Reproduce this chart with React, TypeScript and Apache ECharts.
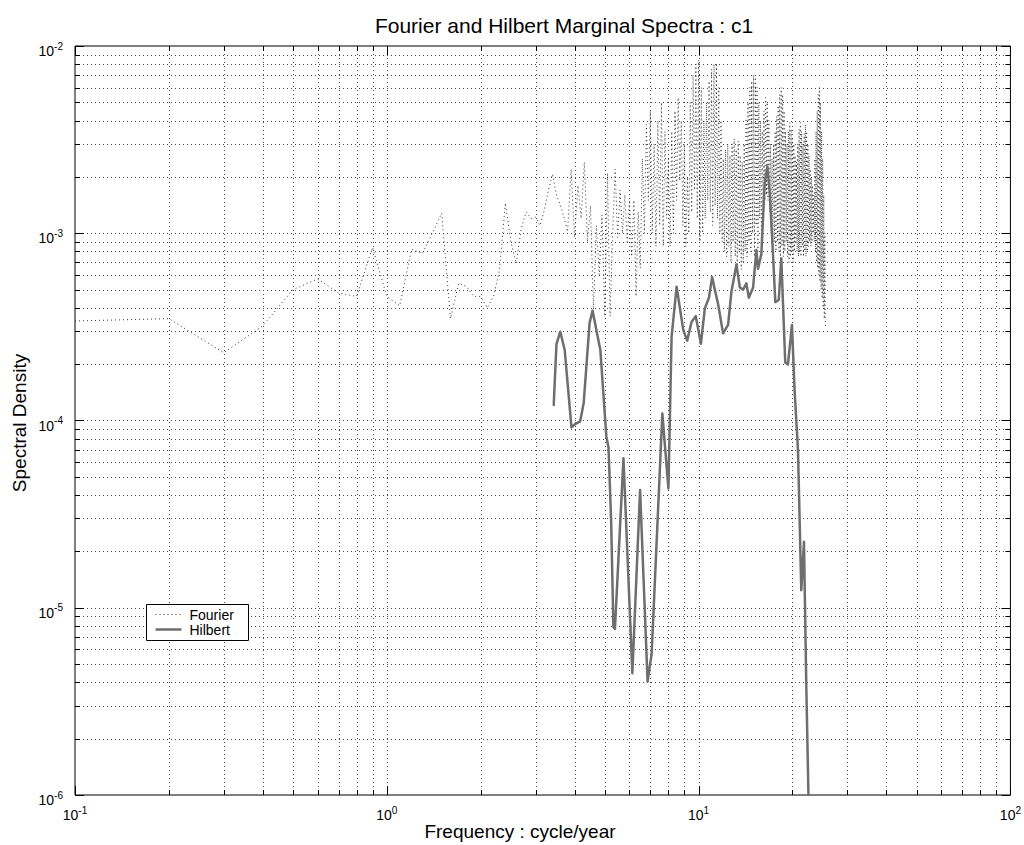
import React, { useEffect, useRef } from 'react';
import * as echarts from 'echarts';

// ---------------- data ----------------
const fourierFreq = [
  0.1, 0.2, 0.3, 0.4, 0.5, 0.6, 0.7, 0.8, 0.9, 1.0,
  1.1, 1.2, 1.3, 1.4, 1.5, 1.6, 1.7, 1.8, 1.9, 2.0,
  2.1, 2.2, 2.3, 2.4, 2.5, 2.6, 2.7, 2.8, 2.9, 3.0,
  3.1, 3.2, 3.3, 3.4, 3.5, 3.6, 3.7, 3.8, 3.9, 4.0,
  4.1, 4.2, 4.3, 4.4, 4.5, 4.6, 4.7, 4.8, 4.9, 5.0,
  5.1, 5.2, 5.3, 5.4, 5.5, 5.6, 5.7, 5.8, 5.9, 6.0,
  6.1, 6.2, 6.3, 6.4, 6.5, 6.6, 6.7, 6.8, 6.9, 7.0,
  7.1, 7.2, 7.3, 7.4, 7.5, 7.6, 7.7, 7.8, 7.9, 8.0,
  8.1, 8.2, 8.3, 8.4, 8.5, 8.6, 8.7, 8.8, 8.9, 9.0,
  9.1, 9.2, 9.3, 9.4, 9.5, 9.6, 9.7, 9.8, 9.9, 10.0,
  10.1, 10.2, 10.3, 10.4, 10.5, 10.6, 10.7, 10.8, 10.9, 11.0,
  11.1, 11.2, 11.3, 11.4, 11.5, 11.6, 11.7, 11.8, 11.9, 12.0,
  12.1, 12.2, 12.3, 12.4, 12.5, 12.6, 12.7, 12.8, 12.9, 13.0,
  13.1, 13.2, 13.3, 13.4, 13.5, 13.6, 13.7, 13.8, 13.9, 14.0,
  14.1, 14.2, 14.3, 14.4, 14.5, 14.6, 14.7, 14.8, 14.9, 15.0,
  15.1, 15.2, 15.3, 15.4, 15.5, 15.6, 15.7, 15.8, 15.9, 16.0,
  16.1, 16.2, 16.3, 16.4, 16.5, 16.6, 16.7, 16.8, 16.9, 17.0,
  17.1, 17.2, 17.3, 17.4, 17.5, 17.6, 17.7, 17.8, 17.9, 18.0,
  18.1, 18.2, 18.3, 18.4, 18.5, 18.6, 18.7, 18.8, 18.9, 19.0,
  19.1, 19.2, 19.3, 19.4, 19.5, 19.6, 19.7, 19.8, 19.9, 20.0,
  20.1, 20.2, 20.3, 20.4, 20.5, 20.6, 20.7, 20.8, 20.9, 21.0,
  21.1, 21.2, 21.3, 21.4, 21.5, 21.6, 21.7, 21.8, 21.9, 22.0,
  22.1, 22.2, 22.3, 22.4, 22.5, 22.6, 22.7, 22.8, 22.9, 23.0,
  23.1, 23.2, 23.3, 23.4, 23.5, 23.6, 23.7, 23.8, 23.9, 24.0,
  24.1, 24.2, 24.3, 24.4, 24.5, 24.6, 24.7, 24.8, 24.9, 25.0,
  25.1, 25.2, 25.3, 25.4, 25.5,
];

const fourierDensity = [
  3.4e-4, 3.5e-4, 2.3e-4, 3.2e-4, 5.0e-4, 5.7e-4, 4.8e-4, 4.6e-4, 8.4e-4, 4.6e-4,
  4.1e-4, 8.2e-4, 7.8e-4, 1.0e-3, 1.28e-3, 3.5e-4, 5.4e-4, 5.2e-4, 4.6e-4, 4.6e-4,
  4.0e-4, 4.6e-4, 6.4e-4, 1.45e-3, 9.0e-4, 6.9e-4, 1.07e-3, 1.3e-3, 1.2e-3, 1.22e-3,
  1.1e-3, 1.33e-3, 1.7e-3, 2.07e-3, 1.6e-3, 1.42e-3, 1.22e-3, 1.02e-3, 2.2e-3, 9.5e-4,
  1.8e-3, 1.2e-3, 2.4e-3, 9.0e-4, 1.4e-3, 3.9e-4, 1.1e-3, 6.0e-4, 1.25e-3, 3.6e-4,
  2.1e-3, 3.6e-4, 1.0e-3, 2.2e-3, 9.5e-4, 1.7e-3, 1.0e-3, 1.6e-3, 9.0e-4, 1.5e-3,
  7.5e-4, 1.5e-3, 4.6e-4, 1.3e-3, 6.5e-4, 2.5e-3, 1.0e-3, 3.8e-3, 1.5e-3, 4.5e-3,
  1.0e-3, 3.0e-3, 8.5e-4, 4.0e-3, 1.1e-3, 5.0e-3, 8.5e-4, 3.5e-3, 1.2e-3, 2.5e-3,
  8.5e-4, 3.5e-3, 1.0e-3, 4.5e-3, 1.5e-3, 5.3e-3, 1.9e-3, 4.0e-3, 1.1e-3, 3.0e-3,
  8.5e-4, 2.0e-3, 1.0e-3, 5.0e-3, 1.3e-3, 7.0e-3, 1.7e-3, 8.0e-3, 1.2e-3, 8.4e-3,
  9.0e-4, 6.0e-3, 1.0e-3, 4.0e-3, 1.2e-3, 5.0e-3, 1.5e-3, 6.5e-3, 1.3e-3, 7.5e-3,
  1.1e-3, 8.0e-3, 1.4e-3, 8.1e-3, 1.2e-3, 6.0e-3, 1.0e-3, 4.0e-3, 9.0e-4, 2.5e-3,
  8.0e-4, 2.8e-3, 7.5e-4, 3.0e-3, 8.5e-4, 2.6e-3, 7.0e-4, 3.0e-3, 9.0e-4, 3.2e-3,
  7.5e-4, 2.8e-3, 6.5e-4, 3.1e-3, 8.0e-4, 2.6e-3, 6.4e-4, 2.4e-3, 7.0e-4, 3.0e-3,
  8.0e-4, 4.0e-3, 7.5e-4, 5.0e-3, 9.0e-4, 6.0e-3, 8.0e-4, 6.5e-3, 1.0e-3, 7.0e-3,
  7.5e-4, 6.8e-3, 1.1e-3, 6.0e-3, 8.0e-4, 5.0e-3, 1.2e-3, 4.0e-3, 9.0e-4, 3.5e-3,
  1.3e-3, 4.5e-3, 1.5e-3, 5.3e-3, 1.6e-3, 5.0e-3, 1.5e-3, 4.0e-3, 1.3e-3, 3.0e-3,
  1.0e-3, 2.5e-3, 8.5e-4, 3.0e-3, 9.0e-4, 3.5e-3, 8.0e-4, 4.2e-3, 9.0e-4, 4.8e-3,
  8.0e-4, 5.5e-3, 7.5e-4, 6.0e-3, 8.5e-4, 5.5e-3, 7.5e-4, 4.5e-3, 8.0e-4, 3.5e-3,
  9.0e-4, 3.0e-3, 7.5e-4, 3.5e-3, 7.0e-4, 3.9e-3, 7.5e-4, 3.6e-3, 8.0e-4, 3.2e-3,
  7.0e-4, 3.0e-3, 8.0e-4, 2.6e-3, 9.0e-4, 2.4e-3, 8.0e-4, 3.0e-3, 7.5e-4, 3.6e-3,
  8.0e-4, 3.9e-3, 7.5e-4, 3.5e-3, 8.5e-4, 3.0e-3, 7.5e-4, 3.4e-3, 8.0e-4, 3.8e-3,
  7.5e-4, 3.5e-3, 8.0e-4, 3.0e-3, 8.5e-4, 2.6e-3, 9.0e-4, 2.2e-3, 8.5e-4, 2.0e-3,
  9.0e-4, 1.8e-3, 1.0e-3, 1.6e-3, 9.0e-4, 2.5e-3, 8.0e-4, 3.5e-3, 7.0e-4, 4.5e-3,
  6.5e-4, 5.5e-3, 6.0e-4, 6.0e-3, 5.5e-4, 5.0e-3, 5.0e-4, 3.5e-3, 4.5e-4, 2.5e-3,
  4.0e-4, 1.6e-3, 3.5e-4, 1.0e-3, 3.1e-4,
];

const hilbertFreq = [
  3.43, 3.50, 3.60, 3.72, 3.91, 4.03, 4.17, 4.28, 4.47, 4.57,
  4.84, 5.06, 5.14, 5.24, 5.33, 5.39, 5.74, 6.13, 6.49, 6.86,
  7.07, 7.65, 8.00, 8.19, 8.50, 8.93, 9.19, 9.49, 9.79, 10.17,
  10.47, 10.79, 11.05, 11.27, 11.55, 11.98, 12.43, 12.74, 13.22, 13.56,
  13.89, 14.23, 14.49, 14.95, 15.32, 15.51, 15.89, 16.29, 16.61, 16.90,
  17.32, 17.62, 18.07, 18.41, 18.96, 19.34, 19.92, 20.32, 20.83, 21.34,
  21.77, 22.13, 22.5,
];

const hilbertDensity = [
  1.21e-4, 2.56e-4, 2.98e-4, 2.38e-4, 9.2e-5, 9.6e-5, 9.9e-5, 1.24e-4, 3.32e-4, 3.86e-4,
  2.38e-4, 8.2e-5, 7.2e-5, 2.94e-5, 7.9e-6, 7.7e-6, 6.28e-5, 4.47e-6, 4.26e-5, 4.03e-6,
  5.7e-6, 1.09e-4, 4.34e-5, 2.8e-4, 5.18e-4, 3.04e-4, 2.67e-4, 3.36e-4, 3.61e-4, 2.57e-4,
  3.97e-4, 4.52e-4, 5.83e-4, 5.0e-4, 4.18e-4, 2.92e-4, 3.24e-4, 4.87e-4, 6.8e-4, 5.13e-4,
  5.0e-4, 5.4e-4, 4.52e-4, 5.13e-4, 8.13e-4, 6.46e-4, 7.73e-4, 1.85e-3, 2.27e-3, 1.67e-3,
  7.73e-4, 4.29e-4, 4.4e-4, 7.35e-4, 2.04e-4, 1.99e-4, 3.24e-4, 1.43e-4, 6.96e-5, 1.24e-5,
  2.25e-5, 4.11e-6, 1.0e-6,
];

const xMajorTicks = [0.1, 1, 10, 100];
const xMinorTicks = [
  0.2, 0.3, 0.4, 0.5, 0.6, 0.7, 0.8, 0.9,
  2, 3, 4, 5, 6, 7, 8, 9,
  20, 30, 40, 50, 60, 70, 80, 90,
];
const yMajorTicks = [1e-6, 1e-5, 1e-4, 1e-3, 1e-2];
const yMinorTicks = [
  2e-6, 3e-6, 4e-6, 5e-6, 6e-6, 7e-6, 8e-6, 9e-6,
  2e-5, 3e-5, 4e-5, 5e-5, 6e-5, 7e-5, 8e-5, 9e-5,
  2e-4, 3e-4, 4e-4, 5e-4, 6e-4, 7e-4, 8e-4, 9e-4,
  2e-3, 3e-3, 4e-3, 5e-3, 6e-3, 7e-3, 8e-3, 9e-3,
];

const seriesNames = ['Fourier', 'Hilbert'];
const titleText = 'Fourier and Hilbert Marginal Spectra : c1';
const xName = 'Frequency : cycle/year';
const yName = 'Spectral Density';

const FONT = '"Liberation Sans", Arial, Helvetica, sans-serif';
const GRID_COLOR = '#4a4a4a';
const FOURIER_COLOR = '#333';
const HILBERT_COLOR = '#6e6e6e';

function expLabel(v: number) {
  const e = Math.round(Math.log10(v));
  return `{b|10}{s|${e}}`;
}

const richLabel = {
  b: { fontSize: 14, fontFamily: FONT, color: '#000', lineHeight: 20 },
  s: { fontSize: 10, fontFamily: FONT, color: '#000', lineHeight: 11, verticalAlign: 'top' },
};

export default function App() {
  const ref = useRef<HTMLDivElement>(null);

  useEffect(() => {
    if (!ref.current) return;
    const chart = echarts.init(ref.current, undefined, { renderer: 'svg' });

    const xGridData = [...xMajorTicks, ...xMinorTicks].map((v) => [v, 1e-4]);
    const yGridData = [...yMajorTicks, ...yMinorTicks].map((v) => [1, v]);

    const legendX = 146.5;
    const legendY = 604.5;

    const option: any = {
      animation: false,
      backgroundColor: '#fff',
      graphic: [
        {
          type: 'text',
          x: 564,
          y: 25,
          z: 100,
          style: {
            text: titleText,
            fill: '#000',
            font: `21px ${FONT}`,
            textAlign: 'center',
            textVerticalAlign: 'middle',
          },
        },
        {
          type: 'text',
          x: 520,
          y: 831,
          z: 100,
          style: {
            text: xName,
            fill: '#000',
            font: `19px ${FONT}`,
            textAlign: 'center',
            textVerticalAlign: 'middle',
          },
        },
        {
          type: 'text',
          x: 19,
          y: 423,
          rotation: Math.PI / 2,
          z: 100,
          style: {
            text: yName,
            fill: '#000',
            font: `19px ${FONT}`,
            textAlign: 'center',
            textVerticalAlign: 'middle',
          },
        },
        // legend box
        {
          type: 'rect',
          z: 100,
          shape: { x: legendX, y: legendY, width: 102, height: 36 },
          style: { fill: '#fff', stroke: '#000', lineWidth: 1 },
        },
        {
          type: 'line',
          z: 101,
          shape: { x1: legendX + 9, y1: legendY + 10, x2: legendX + 35, y2: legendY + 10 },
          style: { stroke: FOURIER_COLOR, lineWidth: 1, lineDash: [1, 3] },
        },
        {
          type: 'line',
          z: 101,
          shape: { x1: legendX + 9, y1: legendY + 25, x2: legendX + 35, y2: legendY + 25 },
          style: { stroke: HILBERT_COLOR, lineWidth: 2.5 },
        },
        {
          type: 'text',
          z: 101,
          x: legendX + 43,
          y: legendY + 10,
          style: {
            text: seriesNames[0],
            fill: '#000',
            font: `14px ${FONT}`,
            textAlign: 'left',
            textVerticalAlign: 'middle',
          },
        },
        {
          type: 'text',
          z: 101,
          x: legendX + 43,
          y: legendY + 25,
          style: {
            text: seriesNames[1],
            fill: '#000',
            font: `14px ${FONT}`,
            textAlign: 'left',
            textVerticalAlign: 'middle',
          },
        },
      ],
      grid: {
        left: 75,
        right: 11,
        top: 46,
        bottom: 50,
        show: true,
        borderColor: '#000',
        borderWidth: 1,
        backgroundColor: 'transparent',
      },
      xAxis: {
        type: 'log',
        logBase: 10,
        min: 0.1,
        max: 100,
        axisLine: { show: false },
        axisTick: { show: false },
        splitLine: { show: false },
        axisLabel: {
          margin: 10,
          formatter: expLabel,
          rich: richLabel,
          showMinLabel: true,
          showMaxLabel: true,
        },
      },
      yAxis: {
        type: 'log',
        logBase: 10,
        min: 1e-6,
        max: 1e-2,
        axisLine: { show: false },
        axisTick: { show: false },
        splitLine: { show: false },
        axisLabel: {
          margin: 12,
          padding: [10, 0, 0, 0],
          formatter: expLabel,
          rich: richLabel,
          showMinLabel: true,
          showMaxLabel: true,
        },
      },
      series: [
        {
          type: 'custom',
          silent: true,
          z: 1,
          clip: false,
          data: xGridData,
          encode: { x: 0, y: 1 },
          renderItem: (params: any, api: any) => {
            const cs = params.coordSys;
            const v = api.value(0);
            const px = Math.round(api.coord([v, 1e-4])[0]) + 0.5;
            const major = xMajorTicks.includes(v);
            const len = major ? 9 : 5;
            const top = cs.y;
            const bot = cs.y + cs.height;
            const children: any[] = [];
            if (v > 0.1 && v < 100) {
              children.push({
                type: 'line',
                shape: { x1: px, y1: top, x2: px, y2: bot },
                style: { stroke: GRID_COLOR, lineWidth: 1, lineDash: [1, 3] },
              });
            }
            children.push({
              type: 'line',
              shape: { x1: px, y1: bot, x2: px, y2: bot - len },
              style: { stroke: '#000', lineWidth: 1 },
            });
            children.push({
              type: 'line',
              shape: { x1: px, y1: top, x2: px, y2: top + len },
              style: { stroke: '#000', lineWidth: 1 },
            });
            return { type: 'group', children };
          },
        },
        {
          type: 'custom',
          silent: true,
          z: 1,
          clip: false,
          data: yGridData,
          encode: { x: 0, y: 1 },
          renderItem: (params: any, api: any) => {
            const cs = params.coordSys;
            const v = api.value(1);
            const py = Math.round(api.coord([1, v])[1]) + 0.5;
            const major = yMajorTicks.includes(v);
            const len = major ? 9 : 5;
            const left = cs.x;
            const right = cs.x + cs.width;
            const children: any[] = [];
            if (v > 1e-6 && v < 1e-2) {
              children.push({
                type: 'line',
                shape: { x1: left, y1: py, x2: right, y2: py },
                style: { stroke: GRID_COLOR, lineWidth: 1, lineDash: [1, 3] },
              });
            }
            children.push({
              type: 'line',
              shape: { x1: left, y1: py, x2: left + len, y2: py },
              style: { stroke: '#000', lineWidth: 1 },
            });
            children.push({
              type: 'line',
              shape: { x1: right, y1: py, x2: right - len, y2: py },
              style: { stroke: '#000', lineWidth: 1 },
            });
            return { type: 'group', children };
          },
        },
        {
          name: seriesNames[0],
          type: 'line',
          z: 3,
          symbol: 'none',
          showSymbol: false,
          data: fourierFreq.map((f, i) => [f, fourierDensity[i]]),
          lineStyle: { color: FOURIER_COLOR, width: 1, type: [1, 3] },
          itemStyle: { color: FOURIER_COLOR },
        },
        {
          name: seriesNames[1],
          type: 'line',
          z: 4,
          symbol: 'none',
          showSymbol: false,
          data: hilbertFreq.map((f, i) => [f, hilbertDensity[i]]),
          lineStyle: { color: HILBERT_COLOR, width: 2.5, join: 'round', cap: 'round' },
          itemStyle: { color: HILBERT_COLOR },
        },
      ],
    };

    chart.setOption(option);
    return () => {
      chart.dispose();
    };
  }, []);

  return (
    <div
      ref={ref}
      style={{ position: 'fixed', left: 0, top: 0, width: 1024, height: 845, background: '#fff' }}
    />
  );
}
